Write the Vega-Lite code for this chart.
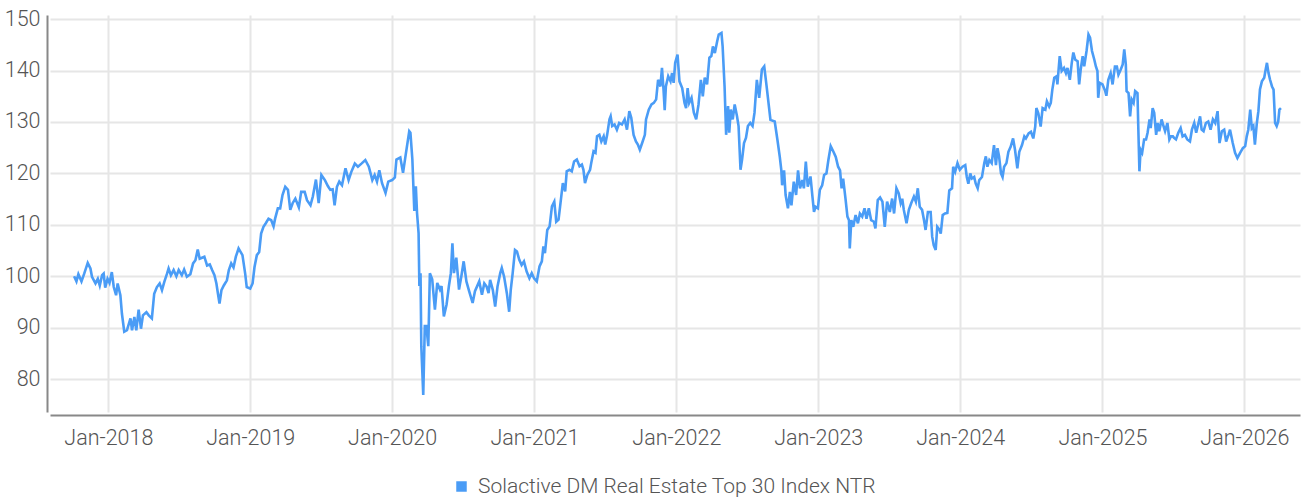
{
  "$schema": "https://vega.github.io/schema/vega-lite/v6.json",
  "autosize": {"type": "none"},
  "width": 1250,
  "height": 397,
  "padding": {"left": 50, "top": 15, "right": 4, "bottom": 86},
  "background": "white",
  "config": {
    "view": {"stroke": null},
    "font": "Roboto, sans-serif"
  },
  "data": {
    "values": [
      {"date": "2017-10-05", "value": 100.0},
      {"date": "2017-10-11", "value": 99.0},
      {"date": "2017-10-16", "value": 100.4},
      {"date": "2017-10-24", "value": 99.0},
      {"date": "2017-10-31", "value": 100.5},
      {"date": "2017-11-09", "value": 102.6},
      {"date": "2017-11-16", "value": 101.5},
      {"date": "2017-11-20", "value": 99.9},
      {"date": "2017-11-29", "value": 98.6},
      {"date": "2017-12-05", "value": 99.5},
      {"date": "2017-12-10", "value": 98.2},
      {"date": "2017-12-16", "value": 100.2},
      {"date": "2017-12-20", "value": 100.5},
      {"date": "2017-12-24", "value": 97.8},
      {"date": "2017-12-30", "value": 99.5},
      {"date": "2018-01-04", "value": 98.7},
      {"date": "2018-01-10", "value": 100.8},
      {"date": "2018-01-15", "value": 97.9},
      {"date": "2018-01-21", "value": 96.3},
      {"date": "2018-01-25", "value": 98.6},
      {"date": "2018-02-01", "value": 96.3},
      {"date": "2018-02-05", "value": 92.7},
      {"date": "2018-02-11", "value": 89.2},
      {"date": "2018-02-18", "value": 89.5},
      {"date": "2018-02-27", "value": 91.8},
      {"date": "2018-03-03", "value": 89.5},
      {"date": "2018-03-09", "value": 92.1},
      {"date": "2018-03-14", "value": 89.5},
      {"date": "2018-03-20", "value": 93.5},
      {"date": "2018-03-26", "value": 89.8},
      {"date": "2018-03-31", "value": 92.4},
      {"date": "2018-04-09", "value": 93.0},
      {"date": "2018-04-15", "value": 92.4},
      {"date": "2018-04-23", "value": 91.8},
      {"date": "2018-04-29", "value": 96.6},
      {"date": "2018-05-06", "value": 97.9},
      {"date": "2018-05-13", "value": 98.6},
      {"date": "2018-05-19", "value": 97.3},
      {"date": "2018-05-25", "value": 98.9},
      {"date": "2018-06-01", "value": 100.5},
      {"date": "2018-06-05", "value": 101.5},
      {"date": "2018-06-11", "value": 100.2},
      {"date": "2018-06-18", "value": 101.2},
      {"date": "2018-06-25", "value": 100.0},
      {"date": "2018-07-01", "value": 101.2},
      {"date": "2018-07-09", "value": 100.2},
      {"date": "2018-07-15", "value": 101.3},
      {"date": "2018-07-22", "value": 99.9},
      {"date": "2018-07-31", "value": 100.4},
      {"date": "2018-08-07", "value": 102.5},
      {"date": "2018-08-13", "value": 103.1},
      {"date": "2018-08-19", "value": 105.2},
      {"date": "2018-08-24", "value": 103.4},
      {"date": "2018-08-30", "value": 103.6},
      {"date": "2018-09-05", "value": 103.8},
      {"date": "2018-09-12", "value": 102.1},
      {"date": "2018-09-19", "value": 102.3},
      {"date": "2018-09-25", "value": 101.2},
      {"date": "2018-10-01", "value": 100.2},
      {"date": "2018-10-06", "value": 98.6},
      {"date": "2018-10-10", "value": 96.6},
      {"date": "2018-10-14", "value": 94.7},
      {"date": "2018-10-19", "value": 97.3},
      {"date": "2018-10-25", "value": 98.2},
      {"date": "2018-11-02", "value": 99.2},
      {"date": "2018-11-07", "value": 101.2},
      {"date": "2018-11-13", "value": 102.5},
      {"date": "2018-11-19", "value": 101.7},
      {"date": "2018-11-25", "value": 103.8},
      {"date": "2018-12-02", "value": 105.4},
      {"date": "2018-12-12", "value": 104.1},
      {"date": "2018-12-19", "value": 100.5},
      {"date": "2018-12-23", "value": 97.9},
      {"date": "2019-01-01", "value": 97.6},
      {"date": "2019-01-07", "value": 98.6},
      {"date": "2019-01-12", "value": 101.8},
      {"date": "2019-01-18", "value": 104.1},
      {"date": "2019-01-24", "value": 104.7},
      {"date": "2019-01-29", "value": 108.3},
      {"date": "2019-02-04", "value": 109.6},
      {"date": "2019-02-10", "value": 110.3},
      {"date": "2019-02-17", "value": 111.2},
      {"date": "2019-02-24", "value": 110.9},
      {"date": "2019-03-02", "value": 109.7},
      {"date": "2019-03-06", "value": 111.2},
      {"date": "2019-03-13", "value": 113.2},
      {"date": "2019-03-19", "value": 113.2},
      {"date": "2019-03-25", "value": 115.8},
      {"date": "2019-04-01", "value": 117.4},
      {"date": "2019-04-08", "value": 116.8},
      {"date": "2019-04-14", "value": 112.9},
      {"date": "2019-04-20", "value": 114.2},
      {"date": "2019-04-27", "value": 115.1},
      {"date": "2019-05-06", "value": 113.4},
      {"date": "2019-05-12", "value": 116.4},
      {"date": "2019-05-21", "value": 116.4},
      {"date": "2019-05-27", "value": 114.8},
      {"date": "2019-06-05", "value": 113.8},
      {"date": "2019-06-11", "value": 115.5},
      {"date": "2019-06-19", "value": 118.8},
      {"date": "2019-06-26", "value": 114.2},
      {"date": "2019-07-03", "value": 119.7},
      {"date": "2019-07-12", "value": 118.7},
      {"date": "2019-07-20", "value": 117.5},
      {"date": "2019-07-26", "value": 116.8},
      {"date": "2019-08-01", "value": 116.9},
      {"date": "2019-08-06", "value": 113.8},
      {"date": "2019-08-12", "value": 117.4},
      {"date": "2019-08-18", "value": 118.4},
      {"date": "2019-08-25", "value": 117.7},
      {"date": "2019-09-03", "value": 121.0},
      {"date": "2019-09-11", "value": 118.7},
      {"date": "2019-09-18", "value": 120.3},
      {"date": "2019-09-27", "value": 121.9},
      {"date": "2019-10-05", "value": 121.3},
      {"date": "2019-10-14", "value": 121.9},
      {"date": "2019-10-24", "value": 122.6},
      {"date": "2019-11-02", "value": 121.3},
      {"date": "2019-11-11", "value": 118.7},
      {"date": "2019-11-17", "value": 119.7},
      {"date": "2019-11-23", "value": 118.4},
      {"date": "2019-11-29", "value": 120.6},
      {"date": "2019-12-06", "value": 118.1},
      {"date": "2019-12-15", "value": 116.2},
      {"date": "2019-12-22", "value": 118.4},
      {"date": "2020-01-01", "value": 118.7},
      {"date": "2020-01-08", "value": 119.2},
      {"date": "2020-01-12", "value": 122.7},
      {"date": "2020-01-22", "value": 123.1},
      {"date": "2020-01-29", "value": 120.1},
      {"date": "2020-02-05", "value": 123.7},
      {"date": "2020-02-14", "value": 128.2},
      {"date": "2020-02-17", "value": 127.9},
      {"date": "2020-02-22", "value": 122.7},
      {"date": "2020-02-27", "value": 112.7},
      {"date": "2020-03-02", "value": 117.5},
      {"date": "2020-03-05", "value": 112.3},
      {"date": "2020-03-09", "value": 108.4},
      {"date": "2020-03-11", "value": 98.1},
      {"date": "2020-03-14", "value": 100.6},
      {"date": "2020-03-16", "value": 86.4},
      {"date": "2020-03-21", "value": 76.9},
      {"date": "2020-03-25", "value": 90.3},
      {"date": "2020-03-29", "value": 90.3},
      {"date": "2020-04-03", "value": 86.4},
      {"date": "2020-04-07", "value": 100.6},
      {"date": "2020-04-13", "value": 99.4},
      {"date": "2020-04-20", "value": 93.5},
      {"date": "2020-04-26", "value": 98.7},
      {"date": "2020-05-03", "value": 97.4},
      {"date": "2020-05-07", "value": 98.1},
      {"date": "2020-05-13", "value": 92.2},
      {"date": "2020-05-20", "value": 94.5},
      {"date": "2020-05-26", "value": 98.1},
      {"date": "2020-05-31", "value": 100.6},
      {"date": "2020-06-04", "value": 106.4},
      {"date": "2020-06-08", "value": 100.6},
      {"date": "2020-06-14", "value": 103.6},
      {"date": "2020-06-21", "value": 97.4},
      {"date": "2020-06-27", "value": 100.0},
      {"date": "2020-07-03", "value": 102.9},
      {"date": "2020-07-10", "value": 99.0},
      {"date": "2020-07-17", "value": 97.1},
      {"date": "2020-07-26", "value": 94.8},
      {"date": "2020-08-01", "value": 97.1},
      {"date": "2020-08-12", "value": 99.0},
      {"date": "2020-08-19", "value": 96.4},
      {"date": "2020-08-25", "value": 98.6},
      {"date": "2020-08-31", "value": 98.0},
      {"date": "2020-09-05", "value": 96.7},
      {"date": "2020-09-09", "value": 99.3},
      {"date": "2020-09-16", "value": 97.3},
      {"date": "2020-09-22", "value": 94.1},
      {"date": "2020-09-28", "value": 98.0},
      {"date": "2020-10-05", "value": 100.6},
      {"date": "2020-10-09", "value": 101.6},
      {"date": "2020-10-15", "value": 99.9},
      {"date": "2020-10-22", "value": 96.7},
      {"date": "2020-10-28", "value": 93.1},
      {"date": "2020-11-01", "value": 97.3},
      {"date": "2020-11-06", "value": 100.6},
      {"date": "2020-11-12", "value": 105.1},
      {"date": "2020-11-17", "value": 104.8},
      {"date": "2020-11-23", "value": 103.2},
      {"date": "2020-11-29", "value": 102.2},
      {"date": "2020-12-05", "value": 102.9},
      {"date": "2020-12-12", "value": 100.9},
      {"date": "2020-12-19", "value": 99.6},
      {"date": "2020-12-25", "value": 100.6},
      {"date": "2020-12-31", "value": 99.6},
      {"date": "2021-01-07", "value": 99.0},
      {"date": "2021-01-14", "value": 101.9},
      {"date": "2021-01-20", "value": 102.9},
      {"date": "2021-01-24", "value": 105.8},
      {"date": "2021-01-28", "value": 104.5},
      {"date": "2021-02-03", "value": 109.0},
      {"date": "2021-02-09", "value": 109.7},
      {"date": "2021-02-15", "value": 113.6},
      {"date": "2021-02-21", "value": 114.5},
      {"date": "2021-02-26", "value": 110.6},
      {"date": "2021-03-04", "value": 111.0},
      {"date": "2021-03-08", "value": 113.6},
      {"date": "2021-03-15", "value": 118.1},
      {"date": "2021-03-21", "value": 116.5},
      {"date": "2021-03-25", "value": 120.4},
      {"date": "2021-04-01", "value": 120.7},
      {"date": "2021-04-07", "value": 120.4},
      {"date": "2021-04-13", "value": 122.3},
      {"date": "2021-04-20", "value": 122.7},
      {"date": "2021-04-27", "value": 121.4},
      {"date": "2021-05-03", "value": 121.7},
      {"date": "2021-05-07", "value": 120.7},
      {"date": "2021-05-11", "value": 118.1},
      {"date": "2021-05-17", "value": 119.7},
      {"date": "2021-05-24", "value": 120.7},
      {"date": "2021-05-27", "value": 122.0},
      {"date": "2021-06-02", "value": 124.3},
      {"date": "2021-06-07", "value": 124.0},
      {"date": "2021-06-11", "value": 127.2},
      {"date": "2021-06-17", "value": 127.5},
      {"date": "2021-06-22", "value": 126.2},
      {"date": "2021-06-28", "value": 127.2},
      {"date": "2021-07-02", "value": 125.6},
      {"date": "2021-07-07", "value": 127.5},
      {"date": "2021-07-13", "value": 130.5},
      {"date": "2021-07-16", "value": 131.1},
      {"date": "2021-07-20", "value": 129.2},
      {"date": "2021-07-26", "value": 129.5},
      {"date": "2021-08-01", "value": 128.5},
      {"date": "2021-08-07", "value": 129.8},
      {"date": "2021-08-14", "value": 129.5},
      {"date": "2021-08-21", "value": 130.5},
      {"date": "2021-08-27", "value": 128.5},
      {"date": "2021-09-02", "value": 132.1},
      {"date": "2021-09-07", "value": 130.8},
      {"date": "2021-09-13", "value": 127.5},
      {"date": "2021-09-19", "value": 126.2},
      {"date": "2021-09-24", "value": 125.6},
      {"date": "2021-09-29", "value": 124.6},
      {"date": "2021-10-05", "value": 125.9},
      {"date": "2021-10-12", "value": 127.5},
      {"date": "2021-10-15", "value": 130.5},
      {"date": "2021-10-22", "value": 132.4},
      {"date": "2021-10-29", "value": 133.4},
      {"date": "2021-11-04", "value": 133.7},
      {"date": "2021-11-10", "value": 134.4},
      {"date": "2021-11-15", "value": 138.2},
      {"date": "2021-11-21", "value": 136.9},
      {"date": "2021-11-25", "value": 140.5},
      {"date": "2021-11-29", "value": 136.3},
      {"date": "2021-12-02", "value": 132.3},
      {"date": "2021-12-05", "value": 136.9},
      {"date": "2021-12-11", "value": 138.9},
      {"date": "2021-12-17", "value": 137.9},
      {"date": "2021-12-21", "value": 139.5},
      {"date": "2021-12-25", "value": 137.6},
      {"date": "2021-12-29", "value": 141.5},
      {"date": "2022-01-04", "value": 143.1},
      {"date": "2022-01-09", "value": 137.9},
      {"date": "2022-01-16", "value": 136.6},
      {"date": "2022-01-22", "value": 133.7},
      {"date": "2022-01-26", "value": 132.7},
      {"date": "2022-01-30", "value": 136.6},
      {"date": "2022-02-03", "value": 133.7},
      {"date": "2022-02-09", "value": 134.7},
      {"date": "2022-02-15", "value": 131.8},
      {"date": "2022-02-21", "value": 130.5},
      {"date": "2022-02-27", "value": 133.4},
      {"date": "2022-03-05", "value": 138.2},
      {"date": "2022-03-10", "value": 135.0},
      {"date": "2022-03-15", "value": 138.6},
      {"date": "2022-03-21", "value": 137.3},
      {"date": "2022-03-27", "value": 142.5},
      {"date": "2022-04-01", "value": 142.8},
      {"date": "2022-04-05", "value": 144.7},
      {"date": "2022-04-10", "value": 143.4},
      {"date": "2022-04-16", "value": 145.7},
      {"date": "2022-04-20", "value": 147.0},
      {"date": "2022-04-27", "value": 147.3},
      {"date": "2022-04-30", "value": 144.7},
      {"date": "2022-05-05", "value": 136.9},
      {"date": "2022-05-09", "value": 127.5},
      {"date": "2022-05-14", "value": 133.1},
      {"date": "2022-05-17", "value": 127.9},
      {"date": "2022-05-21", "value": 132.4},
      {"date": "2022-05-26", "value": 130.5},
      {"date": "2022-05-31", "value": 133.4},
      {"date": "2022-06-06", "value": 131.1},
      {"date": "2022-06-10", "value": 129.2},
      {"date": "2022-06-15", "value": 120.7},
      {"date": "2022-06-19", "value": 122.7},
      {"date": "2022-06-24", "value": 125.9},
      {"date": "2022-06-29", "value": 126.9},
      {"date": "2022-07-04", "value": 129.2},
      {"date": "2022-07-10", "value": 129.8},
      {"date": "2022-07-16", "value": 129.2},
      {"date": "2022-07-21", "value": 131.8},
      {"date": "2022-07-27", "value": 138.2},
      {"date": "2022-08-02", "value": 134.7},
      {"date": "2022-08-09", "value": 140.2},
      {"date": "2022-08-15", "value": 140.8},
      {"date": "2022-08-21", "value": 137.0},
      {"date": "2022-08-31", "value": 130.4},
      {"date": "2022-09-11", "value": 130.1},
      {"date": "2022-09-18", "value": 126.5},
      {"date": "2022-09-24", "value": 123.2},
      {"date": "2022-09-28", "value": 120.6},
      {"date": "2022-09-30", "value": 117.7},
      {"date": "2022-10-05", "value": 120.6},
      {"date": "2022-10-09", "value": 115.8},
      {"date": "2022-10-15", "value": 113.2},
      {"date": "2022-10-20", "value": 116.4},
      {"date": "2022-10-24", "value": 113.8},
      {"date": "2022-10-30", "value": 118.4},
      {"date": "2022-11-05", "value": 115.8},
      {"date": "2022-11-10", "value": 120.6},
      {"date": "2022-11-15", "value": 117.1},
      {"date": "2022-11-21", "value": 118.7},
      {"date": "2022-11-25", "value": 117.1},
      {"date": "2022-11-30", "value": 122.3},
      {"date": "2022-12-05", "value": 117.4},
      {"date": "2022-12-12", "value": 119.4},
      {"date": "2022-12-17", "value": 115.5},
      {"date": "2022-12-21", "value": 112.5},
      {"date": "2022-12-25", "value": 113.5},
      {"date": "2022-12-31", "value": 113.2},
      {"date": "2023-01-05", "value": 116.8},
      {"date": "2023-01-11", "value": 117.7},
      {"date": "2023-01-16", "value": 119.7},
      {"date": "2023-01-22", "value": 120.0},
      {"date": "2023-01-27", "value": 122.6},
      {"date": "2023-02-02", "value": 125.3},
      {"date": "2023-02-09", "value": 124.2},
      {"date": "2023-02-15", "value": 123.2},
      {"date": "2023-02-21", "value": 121.3},
      {"date": "2023-02-26", "value": 120.6},
      {"date": "2023-03-02", "value": 117.1},
      {"date": "2023-03-06", "value": 119.0},
      {"date": "2023-03-12", "value": 115.1},
      {"date": "2023-03-17", "value": 111.6},
      {"date": "2023-03-21", "value": 110.9},
      {"date": "2023-03-23", "value": 105.4},
      {"date": "2023-03-27", "value": 110.9},
      {"date": "2023-04-01", "value": 109.6},
      {"date": "2023-04-07", "value": 111.9},
      {"date": "2023-04-13", "value": 110.3},
      {"date": "2023-04-18", "value": 112.2},
      {"date": "2023-04-24", "value": 111.6},
      {"date": "2023-04-30", "value": 113.2},
      {"date": "2023-05-05", "value": 111.2},
      {"date": "2023-05-11", "value": 113.2},
      {"date": "2023-05-17", "value": 110.9},
      {"date": "2023-05-24", "value": 110.6},
      {"date": "2023-05-28", "value": 109.3},
      {"date": "2023-06-03", "value": 114.8},
      {"date": "2023-06-09", "value": 115.3},
      {"date": "2023-06-15", "value": 114.5},
      {"date": "2023-06-21", "value": 109.6},
      {"date": "2023-06-27", "value": 114.5},
      {"date": "2023-07-04", "value": 112.5},
      {"date": "2023-07-10", "value": 115.1},
      {"date": "2023-07-15", "value": 112.2},
      {"date": "2023-07-21", "value": 117.1},
      {"date": "2023-07-27", "value": 116.1},
      {"date": "2023-08-01", "value": 114.2},
      {"date": "2023-08-05", "value": 115.1},
      {"date": "2023-08-09", "value": 112.9},
      {"date": "2023-08-16", "value": 110.3},
      {"date": "2023-08-22", "value": 112.9},
      {"date": "2023-08-28", "value": 114.2},
      {"date": "2023-09-04", "value": 115.5},
      {"date": "2023-09-09", "value": 114.5},
      {"date": "2023-09-14", "value": 117.1},
      {"date": "2023-09-19", "value": 113.5},
      {"date": "2023-09-25", "value": 112.9},
      {"date": "2023-09-30", "value": 110.9},
      {"date": "2023-10-04", "value": 109.0},
      {"date": "2023-10-10", "value": 112.5},
      {"date": "2023-10-17", "value": 112.5},
      {"date": "2023-10-21", "value": 107.7},
      {"date": "2023-10-25", "value": 106.0},
      {"date": "2023-10-30", "value": 105.1},
      {"date": "2023-11-03", "value": 109.6},
      {"date": "2023-11-09", "value": 109.0},
      {"date": "2023-11-12", "value": 108.3},
      {"date": "2023-11-17", "value": 111.9},
      {"date": "2023-11-23", "value": 112.2},
      {"date": "2023-11-29", "value": 112.3},
      {"date": "2023-12-04", "value": 116.7},
      {"date": "2023-12-11", "value": 117.1},
      {"date": "2023-12-14", "value": 121.3},
      {"date": "2023-12-19", "value": 120.3},
      {"date": "2023-12-25", "value": 122.0},
      {"date": "2023-12-31", "value": 120.7},
      {"date": "2024-01-07", "value": 121.3},
      {"date": "2024-01-14", "value": 121.6},
      {"date": "2024-01-18", "value": 119.3},
      {"date": "2024-01-22", "value": 118.0},
      {"date": "2024-01-27", "value": 120.0},
      {"date": "2024-01-31", "value": 119.0},
      {"date": "2024-02-06", "value": 119.3},
      {"date": "2024-02-10", "value": 118.0},
      {"date": "2024-02-15", "value": 117.1},
      {"date": "2024-02-19", "value": 118.7},
      {"date": "2024-02-26", "value": 119.3},
      {"date": "2024-03-03", "value": 122.0},
      {"date": "2024-03-07", "value": 123.3},
      {"date": "2024-03-11", "value": 121.3},
      {"date": "2024-03-16", "value": 122.6},
      {"date": "2024-03-22", "value": 122.0},
      {"date": "2024-03-28", "value": 125.5},
      {"date": "2024-04-02", "value": 121.6},
      {"date": "2024-04-06", "value": 124.9},
      {"date": "2024-04-10", "value": 123.3},
      {"date": "2024-04-15", "value": 120.0},
      {"date": "2024-04-19", "value": 119.3},
      {"date": "2024-04-23", "value": 121.3},
      {"date": "2024-04-29", "value": 122.0},
      {"date": "2024-05-04", "value": 124.2},
      {"date": "2024-05-10", "value": 125.2},
      {"date": "2024-05-16", "value": 126.8},
      {"date": "2024-05-21", "value": 124.6},
      {"date": "2024-05-27", "value": 121.0},
      {"date": "2024-06-01", "value": 124.2},
      {"date": "2024-06-08", "value": 125.5},
      {"date": "2024-06-14", "value": 127.2},
      {"date": "2024-06-18", "value": 126.8},
      {"date": "2024-06-25", "value": 127.8},
      {"date": "2024-07-01", "value": 128.1},
      {"date": "2024-07-07", "value": 126.8},
      {"date": "2024-07-12", "value": 129.1},
      {"date": "2024-07-15", "value": 132.7},
      {"date": "2024-07-20", "value": 131.7},
      {"date": "2024-07-26", "value": 129.1},
      {"date": "2024-07-31", "value": 132.7},
      {"date": "2024-08-07", "value": 132.4},
      {"date": "2024-08-11", "value": 134.0},
      {"date": "2024-08-17", "value": 133.0},
      {"date": "2024-08-21", "value": 133.7},
      {"date": "2024-08-25", "value": 136.3},
      {"date": "2024-08-30", "value": 138.6},
      {"date": "2024-09-05", "value": 138.9},
      {"date": "2024-09-07", "value": 137.3},
      {"date": "2024-09-13", "value": 142.8},
      {"date": "2024-09-18", "value": 139.9},
      {"date": "2024-09-24", "value": 140.5},
      {"date": "2024-09-29", "value": 139.5},
      {"date": "2024-10-03", "value": 140.5},
      {"date": "2024-10-09", "value": 138.2},
      {"date": "2024-10-14", "value": 141.5},
      {"date": "2024-10-18", "value": 143.5},
      {"date": "2024-10-23", "value": 142.1},
      {"date": "2024-10-29", "value": 141.8},
      {"date": "2024-11-02", "value": 137.3},
      {"date": "2024-11-06", "value": 140.2},
      {"date": "2024-11-11", "value": 142.8},
      {"date": "2024-11-15", "value": 140.8},
      {"date": "2024-11-21", "value": 143.8},
      {"date": "2024-11-26", "value": 147.0},
      {"date": "2024-11-30", "value": 146.4},
      {"date": "2024-12-05", "value": 143.8},
      {"date": "2024-12-11", "value": 142.1},
      {"date": "2024-12-15", "value": 140.8},
      {"date": "2024-12-19", "value": 139.9},
      {"date": "2024-12-21", "value": 134.7},
      {"date": "2024-12-25", "value": 137.6},
      {"date": "2025-01-01", "value": 137.3},
      {"date": "2025-01-08", "value": 136.0},
      {"date": "2025-01-11", "value": 135.1},
      {"date": "2025-01-16", "value": 138.2},
      {"date": "2025-01-22", "value": 139.5},
      {"date": "2025-01-27", "value": 137.3},
      {"date": "2025-02-02", "value": 140.8},
      {"date": "2025-02-07", "value": 140.8},
      {"date": "2025-02-11", "value": 139.2},
      {"date": "2025-02-17", "value": 140.2},
      {"date": "2025-02-22", "value": 141.2},
      {"date": "2025-02-26", "value": 144.1},
      {"date": "2025-03-02", "value": 141.2},
      {"date": "2025-03-04", "value": 136.0},
      {"date": "2025-03-09", "value": 135.6},
      {"date": "2025-03-13", "value": 131.1},
      {"date": "2025-03-17", "value": 134.4},
      {"date": "2025-03-22", "value": 133.7},
      {"date": "2025-03-26", "value": 136.0},
      {"date": "2025-04-01", "value": 135.6},
      {"date": "2025-04-03", "value": 129.2},
      {"date": "2025-04-06", "value": 120.4},
      {"date": "2025-04-09", "value": 124.6},
      {"date": "2025-04-13", "value": 124.0},
      {"date": "2025-04-18", "value": 126.6},
      {"date": "2025-04-23", "value": 126.6},
      {"date": "2025-04-27", "value": 127.9},
      {"date": "2025-05-02", "value": 130.5},
      {"date": "2025-05-05", "value": 128.8},
      {"date": "2025-05-10", "value": 132.7},
      {"date": "2025-05-14", "value": 131.8},
      {"date": "2025-05-19", "value": 127.5},
      {"date": "2025-05-23", "value": 129.8},
      {"date": "2025-05-27", "value": 128.2},
      {"date": "2025-06-02", "value": 130.5},
      {"date": "2025-06-07", "value": 129.2},
      {"date": "2025-06-11", "value": 128.2},
      {"date": "2025-06-17", "value": 129.8},
      {"date": "2025-06-22", "value": 126.6},
      {"date": "2025-06-26", "value": 127.2},
      {"date": "2025-07-01", "value": 127.2},
      {"date": "2025-07-04", "value": 126.9},
      {"date": "2025-07-09", "value": 126.6},
      {"date": "2025-07-15", "value": 127.9},
      {"date": "2025-07-21", "value": 128.8},
      {"date": "2025-07-26", "value": 127.2},
      {"date": "2025-08-01", "value": 127.5},
      {"date": "2025-08-07", "value": 126.6},
      {"date": "2025-08-14", "value": 126.2},
      {"date": "2025-08-19", "value": 128.5},
      {"date": "2025-08-25", "value": 129.8},
      {"date": "2025-08-30", "value": 127.9},
      {"date": "2025-09-05", "value": 129.8},
      {"date": "2025-09-09", "value": 131.1},
      {"date": "2025-09-13", "value": 128.5},
      {"date": "2025-09-18", "value": 128.2},
      {"date": "2025-09-24", "value": 129.8},
      {"date": "2025-09-30", "value": 130.1},
      {"date": "2025-10-06", "value": 128.5},
      {"date": "2025-10-12", "value": 130.5},
      {"date": "2025-10-18", "value": 129.8},
      {"date": "2025-10-24", "value": 132.1},
      {"date": "2025-10-29", "value": 125.9},
      {"date": "2025-11-04", "value": 128.2},
      {"date": "2025-11-10", "value": 128.5},
      {"date": "2025-11-15", "value": 126.2},
      {"date": "2025-11-21", "value": 127.5},
      {"date": "2025-11-25", "value": 128.5},
      {"date": "2025-12-02", "value": 125.9},
      {"date": "2025-12-08", "value": 124.0},
      {"date": "2025-12-14", "value": 123.0},
      {"date": "2025-12-21", "value": 124.0},
      {"date": "2025-12-28", "value": 124.9},
      {"date": "2026-01-03", "value": 125.3},
      {"date": "2026-01-07", "value": 127.2},
      {"date": "2026-01-11", "value": 128.5},
      {"date": "2026-01-16", "value": 132.4},
      {"date": "2026-01-20", "value": 128.8},
      {"date": "2026-01-24", "value": 129.2},
      {"date": "2026-01-28", "value": 125.6},
      {"date": "2026-02-02", "value": 129.8},
      {"date": "2026-02-06", "value": 132.1},
      {"date": "2026-02-10", "value": 136.3},
      {"date": "2026-02-15", "value": 137.9},
      {"date": "2026-02-21", "value": 138.6},
      {"date": "2026-02-24", "value": 139.9},
      {"date": "2026-02-28", "value": 141.5},
      {"date": "2026-03-04", "value": 139.5},
      {"date": "2026-03-08", "value": 138.2},
      {"date": "2026-03-13", "value": 136.9},
      {"date": "2026-03-17", "value": 136.3},
      {"date": "2026-03-21", "value": 129.8},
      {"date": "2026-03-25", "value": 129.2},
      {"date": "2026-03-29", "value": 130.1},
      {"date": "2026-04-01", "value": 132.4},
      {"date": "2026-04-05", "value": 132.7}
    ]
  },
  "mark": {"type": "line", "strokeWidth": 2.6},
  "encoding": {
    "x": {
      "field": "date",
      "type": "temporal",
      "scale": {
        "type": "utc",
        "domain": [
          {"year": 2017, "month": 8, "date": 4, "utc": true},
          {"year": 2026, "month": 5, "date": 24, "utc": true}
        ]
      },
      "axis": {
        "title": null,
        "format": "%b-%Y",
        "tickCount": {"interval": "year", "step": 1},
        "grid": true,
        "gridColor": "#e6e6e6",
        "gridWidth": 2,
        "ticks": false,
        "tickSize": 0,
        "domainColor": "#888888",
        "domainWidth": 2,
        "offset": 3,
        "labelFontSize": 21.5,
        "labelFontWeight": 300,
        "labelColor": "#555555",
        "labelPadding": 12,
        "labelFlush": false,
        "labelOverlap": false
      }
    },
    "y": {
      "field": "value",
      "type": "quantitative",
      "scale": {"domain": [73.6, 150.8], "nice": false, "zero": false},
      "axis": {
        "title": null,
        "values": [80, 90, 100, 110, 120, 130, 140, 150],
        "grid": true,
        "gridColor": "#e6e6e6",
        "gridWidth": 2,
        "ticks": false,
        "tickSize": 0,
        "domainColor": "#888888",
        "domainWidth": 2,
        "offset": 3,
        "labelFontSize": 21.5,
        "labelFontWeight": 300,
        "labelColor": "#555555",
        "labelPadding": 7
      }
    },
    "color": {
      "datum": "Solactive DM Real Estate Top 30 Index NTR",
      "type": "nominal",
      "scale": {"range": ["#4a9cf6"]},
      "legend": {
        "title": null,
        "orient": "none",
        "legendX": 401,
        "legendY": 461,
        "padding": 0,
        "symbolType": "square",
        "symbolSize": 110,
        "labelFontSize": 21,
        "labelFontWeight": 300,
        "labelColor": "#555555",
        "labelOffset": 6,
        "labelLimit": 800,
        "encode": {
          "symbols": {
            "update": {
              "fill": {"value": "#4a9cf6"},
              "strokeWidth": {"value": 0}
            }
          }
        }
      }
    }
  }
}
